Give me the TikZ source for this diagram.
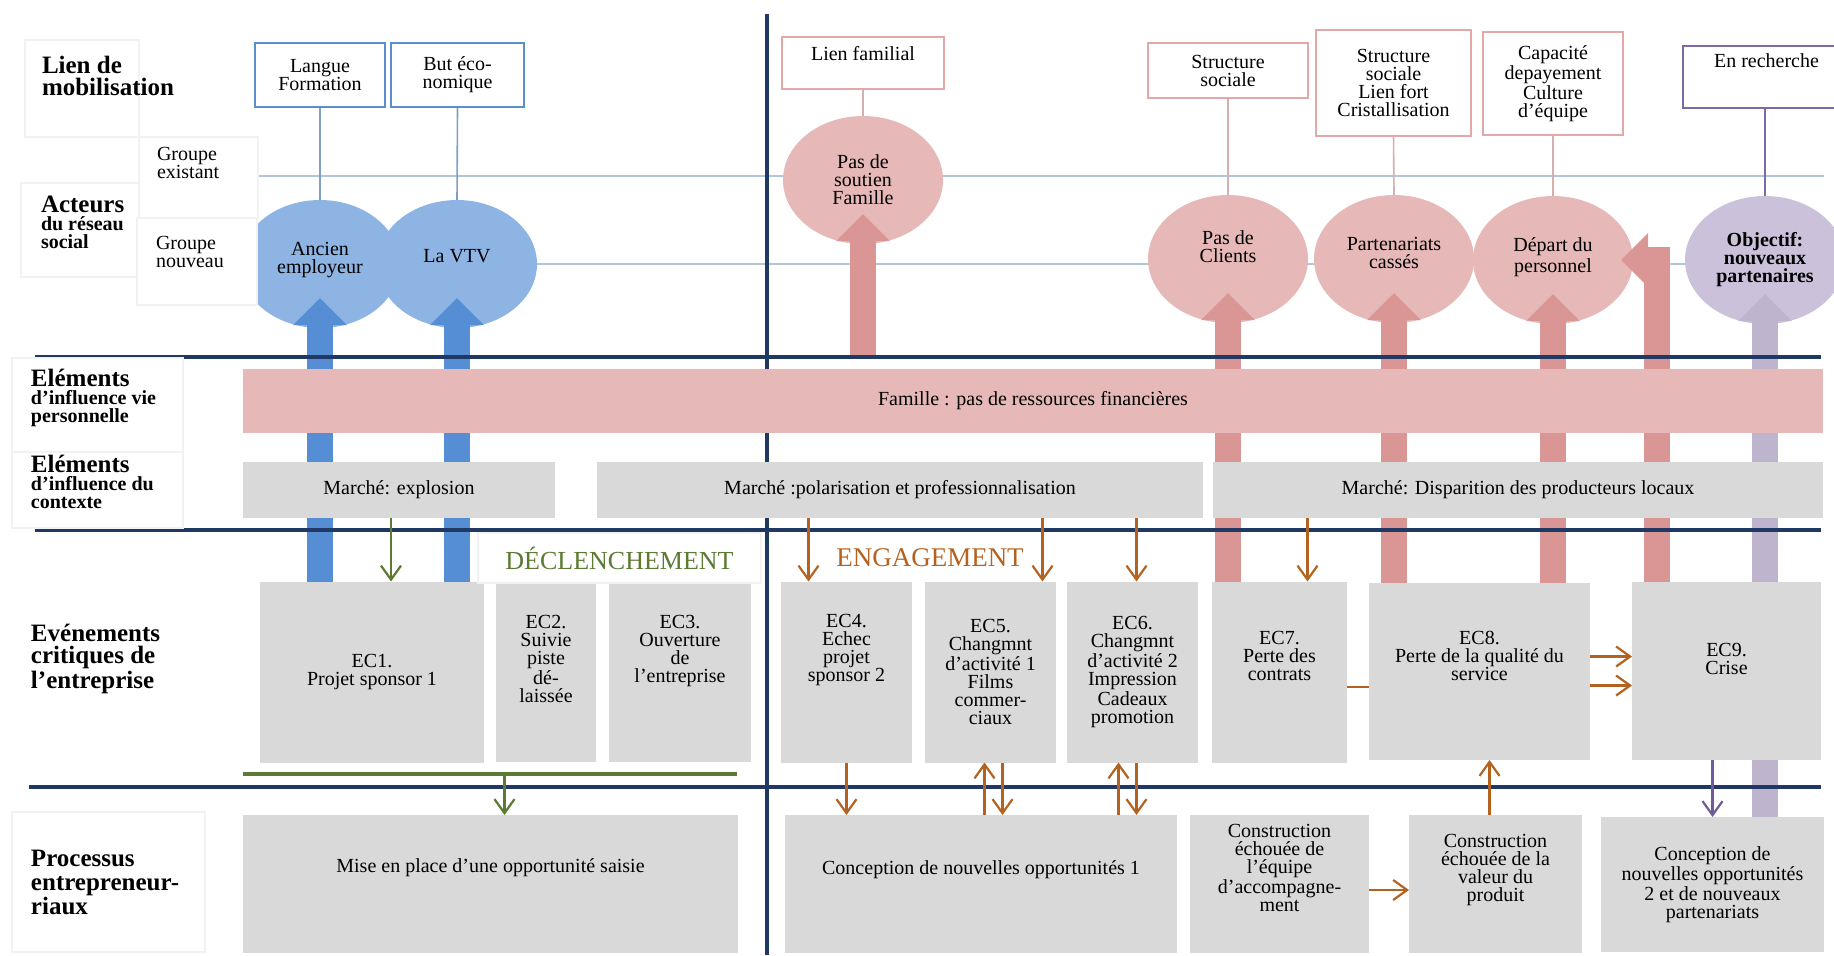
\documentclass[tikz,border=0pt]{standalone}
\usepackage{fontspec}
\setmainfont{Liberation Serif}
\usetikzlibrary{arrows.meta,shapes.geometric}

\pgfdeclarelayer{grid}
\pgfdeclarelayer{actors}
\pgfdeclarelayer{fat}
\pgfsetlayers{grid,actors,fat,main}

\definecolor{navyline}{HTML}{1F3864}
\definecolor{gridblue}{HTML}{B3C5DB}
\definecolor{boxgray}{HTML}{D9D9D9}
\definecolor{lightblue}{HTML}{8EB4E3}
\definecolor{midblue}{HTML}{558ED5}
\definecolor{lightpink}{HTML}{E6B9B8}
\definecolor{midpink}{HTML}{D99694}
\definecolor{lightlilac}{HTML}{CCC1DA}
\definecolor{midlilac}{HTML}{BFB4CE}
\definecolor{darklilac}{HTML}{6F5B99}
\definecolor{declgreen}{HTML}{5C7A33}
\definecolor{engbrown}{HTML}{B3621F}
\definecolor{boxblue}{HTML}{5B8FC9}
\definecolor{linkblue}{HTML}{7F9FC6}
\definecolor{boxpink}{HTML}{E3A9A9}
\definecolor{linkpink}{HTML}{D6AFAF}
\definecolor{boxlilac}{HTML}{7E6AA3}

\begin{document}
\begin{tikzpicture}[x=0.5pt, y=-0.5pt,
  every node/.style={font=\fontsize{10}{9}\selectfont, inner sep=0pt, outer sep=0pt, align=center},
  topbox/.style={draw=#1, line width=1pt, fill=white},
  actor/.style={ellipse, fill=#1, minimum width=80pt, minimum height=64pt},
  graybox/.style={fill=boxgray},
  rowbox/.style={draw=black!5, line width=0.6pt, fill=white},
  rowlabel/.style={anchor=west, align=left, font=\bfseries\fontsize{10}{9}\selectfont},
  gridline/.style={gridblue, line width=1.4pt},
  separator/.style={navyline, line width=1.6pt},
  link/.style={#1, line width=0.8pt},
  fatarrow/.style={#1, line width=13pt, -{Triangle[length=13.5pt,width=26pt]}},
  smallarrow/.style={#1, line width=1.1pt, -{Straight Barb[length=7pt,width=10pt]}}]
\useasboundingbox (0,0) rectangle (1834,955);

\coordinate (h1w) at (35,357);  \coordinate (h1e) at (1821,357);
\coordinate (h2w) at (35,530);  \coordinate (h2e) at (1821,530);
\coordinate (h3w) at (29,787);  \coordinate (h3e) at (1821,787);
\coordinate (gw) at (243,774);  \coordinate (ge) at (737,774);

% liens de mobilisation
\node[topbox=boxblue, minimum width=65pt, minimum height=32pt] (langue) at (320,75) {Langue\\Formation};
\node[topbox=boxblue, minimum width=66.5pt, minimum height=32pt] (buteco) at (457.5,75) {But éco-\\nomique};
\node[topbox=boxpink, minimum width=81pt, minimum height=26pt, text depth=10pt] (lienfam) at (863,63) {Lien familial};
\node[topbox=boxpink, minimum width=80pt, minimum height=27.5pt] (structsoc) at (1228,70.5) {Structure\\sociale};
\node[topbox=boxpink, minimum width=77.5pt, minimum height=53pt] (lienfort) at (1393.5,83) {Structure\\sociale\\Lien fort\\Cristallisation};
\node[topbox=boxpink, minimum width=70pt, minimum height=51.5pt] (capacite) at (1553,83.5) {Capacité\\depayement\\Culture\\d’équipe};
\node[topbox=boxlilac, minimum width=83.5pt, minimum height=31pt, text depth=16pt] (enrech) at (1766.5,77) {En recherche};

% acteurs
\begin{pgfonlayer}{actors}
\node[actor=lightblue, text depth=6pt] (anc) at (320,264) {Ancien\\employeur};
\node[actor=lightblue, text depth=8pt] (vtv) at (457,264) {La VTV};
\node[actor=lightpink] (soutien) at (863,180) {Pas de\\soutien\\Famille};
\node[actor=lightpink, text depth=12pt] (clients) at (1228,259) {Pas de\\Clients};
\node[actor=lightpink, text depth=6pt] (parten) at (1394,259) {Partenariats\\cassés};
\node[actor=lightpink, text depth=5pt] (depart) at (1553,260) {Départ du\\personnel};
\node[actor=lightlilac, font=\bfseries\fontsize{10}{9}\selectfont] (objectif) at (1765,260) {Objectif:\\nouveaux\\partenaires};
\end{pgfonlayer}

\begin{pgfonlayer}{grid}
\draw[gridline] (258,176) -- (1824,176);
\draw[gridline] (258,264) -- (1824,264);
\draw[separator] (767,14) -- (767,955);
\draw[link=linkblue] (langue.south) -- (anc.north);
\draw[link=linkblue] (buteco.south) -- (vtv.north);
\draw[link=linkpink] (lienfam.south) -- (soutien.north);
\draw[link=linkpink] (structsoc.south) -- (clients.north);
\draw[link=linkpink] (lienfort.south) -- (parten.north);
\draw[link=linkpink] (capacite.south) -- (depart.north);
\draw[link=boxlilac] (objectif |- enrech.south) -- (objectif.north);
\end{pgfonlayer}

% elements d'influence
\node[fill=lightpink, minimum width=790pt, minimum height=32pt] (famille) at (1033,401) {Famille : pas de ressources financières};
\node[graybox, minimum width=156pt, minimum height=28pt] (explosion) at (399,490) {Marché: explosion};
\node[graybox, minimum width=303pt, minimum height=28pt] (polar) at (900,490) {Marché :polarisation et professionnalisation};
\node[graybox, minimum width=305pt, minimum height=28pt] (disparition) at (1518,490) {Marché: Disparition des producteurs locaux};

% evenements critiques
\node[graybox, minimum width=112pt, minimum height=90.5pt] (ec1) at (372,672) {EC1.\\Projet sponsor 1};
\node[graybox, minimum width=50pt, minimum height=89pt, text depth=14pt] (ec2) at (546,673) {EC2.\\Suivie\\piste\\dé-\\laissée};
\node[graybox, minimum width=71pt, minimum height=89pt, text depth=24pt] (ec3) at (680,673) {EC3.\\Ouverture\\de\\l’entreprise};
\node[graybox, minimum width=65.5pt, minimum height=90.5pt, text depth=24pt] (ec4) at (846.5,672) {EC4.\\Echec\\projet\\sponsor 2};
\node[graybox, minimum width=65.5pt, minimum height=90.5pt] (ec5) at (990.5,672) {EC5.\\Changmnt\\d’activité 1\\Films\\commer-\\ciaux};
\node[graybox, minimum width=65.5pt, minimum height=90.5pt] (ec6) at (1132.5,672) {EC6.\\Changmnt\\d’activité 2\\Impression\\Cadeaux\\promotion};
\node[graybox, minimum width=67.5pt, minimum height=90.5pt, text depth=16pt] (ec7) at (1279.5,672) {EC7.\\Perte des\\contrats};
\node[graybox, minimum width=110.5pt, minimum height=88.5pt, text depth=16pt] (ec8) at (1479.5,671.5) {EC8.\\Perte de la qualité du\\service};
\node[graybox, minimum width=94.5pt, minimum height=89pt, text depth=12pt] (ec9) at (1726.5,671) {EC9.\\Crise};

% processus
\node[graybox, minimum width=247.5pt, minimum height=69pt, text depth=18pt] (mise) at (490.5,884) {Mise en place d’une opportunité saisie};
\node[graybox, minimum width=196pt, minimum height=69pt, text depth=16pt] (concep1) at (981,884) {Conception de nouvelles opportunités 1};
\node[graybox, minimum width=89.5pt, minimum height=69pt, text depth=16pt] (constreq) at (1279.5,884) {Construction\\échouée de\\l’équipe\\d’accompagne-\\ment};
\node[graybox, minimum width=86.5pt, minimum height=69pt, text depth=16pt] (constval) at (1495.5,884) {Construction\\échouée de la\\valeur du\\produit};
\node[graybox, minimum width=111.5pt, minimum height=67.5pt] (concep2) at (1712.5,884.5) {Conception de\\nouvelles opportunités\\2 et de nouveaux\\partenariats};

% libelles des lignes
\path[rowbox] (25,40) rectangle (139,137);
\path[rowbox] (139,137) rectangle (258,218);
\path[rowbox] (21,183) rectangle (139,277);
\path[rowbox] (137,218) rectangle (257,305);
\path[rowbox] (12,358) rectangle (183,452);
\path[rowbox] (12,452) rectangle (183,528);
\path[rowbox] (12,812) rectangle (205,952);
\node[rowlabel, font=\bfseries\fontsize{12.5}{11}\selectfont] (lien) at (42,76) {Lien de\\mobilisation};
\node[rowlabel, font=\fontsize{10}{9}\selectfont] (grpexist) at (157,163) {Groupe\\existant};
\node[rowlabel] (acteurs) at (41,222) {{\fontsize{12.5}{11}\selectfont Acteurs}\\du réseau\\social};
\node[rowlabel, font=\fontsize{10}{9}\selectfont] (grpnouv) at (156,252) {Groupe\\nouveau};
\node[rowlabel] (elvie) at (31,398) {{\fontsize{12.5}{11}\selectfont Eléments}\\d’influence vie\\personnelle};
\node[rowlabel] (elctx) at (31,482) {{\fontsize{12.5}{11}\selectfont Eléments}\\d’influence du\\contexte};
\node[rowlabel, font=\bfseries\fontsize{12.5}{11}\selectfont] (evenements) at (31,659) {Evénements\\critiques de\\l’entreprise};
\node[rowlabel, font=\bfseries\fontsize{12.5}{12}\selectfont] (processus) at (31,882) {Processus\\entrepreneur-\\riaux};

\node[rowbox, minimum width=141.5pt, minimum height=25pt, text=declgreen, font=\fontsize{13}{13}\selectfont] (decl) at (619.5,558) {DÉCLENCHEMENT};
\node[text=engbrown, font=\fontsize{13.5}{13}\selectfont] (engag) at (930,558) {ENGAGEMENT};

% fleches epaisses et separateurs
\begin{pgfonlayer}{fat}
\draw[fatarrow=midblue] (anc |- ec1.north) -- ([yshift=15pt]anc.south);
\draw[fatarrow=midblue] (vtv |- ec1.north) -- ([yshift=15pt]vtv.south);
\draw[fatarrow=midpink] (soutien |- h1w) -- ([yshift=15pt]soutien.south);
\draw[fatarrow=midpink] (clients |- ec7.north) -- ([yshift=15pt]clients.south);
\draw[fatarrow=midpink] (parten |- ec8.north) -- ([yshift=15pt]parten.south);
\draw[fatarrow=midpink] (depart |- ec8.north) -- ([yshift=15pt]depart.south);
\draw[fatarrow=midpink] ([xshift=-35pt]ec9.north) |- ([xshift=-6pt]depart.east);
\draw[fatarrow=midlilac] (objectif |- concep2.north) -- ([yshift=15pt]objectif.south);
\draw[separator] (h1w) -- (h1e);
\draw[separator] (h2w) -- (h2e);
\draw[separator] (h3w) -- (h3e);
\end{pgfonlayer}

% declenchement
\draw[smallarrow=declgreen] ([xshift=-4pt]explosion.south) -- ([xshift=-4pt]explosion.south |- ec1.north);
\draw[declgreen, line width=1.6pt] (gw) -- (ge);
\draw[smallarrow=declgreen] ([xshift=7pt]mise.north |- gw) -- ([xshift=7pt]mise.north);

% engagement
\draw[smallarrow=engbrown] ([xshift=-19pt]ec4.north |- polar.south) -- ([xshift=-19pt]ec4.north);
\draw[smallarrow=engbrown] ([xshift=26pt]ec5.north |- polar.south) -- ([xshift=26pt]ec5.north);
\draw[smallarrow=engbrown] ([xshift=2pt]ec6.north |- polar.south) -- ([xshift=2pt]ec6.north);
\draw[smallarrow=engbrown] ([xshift=14pt]ec7.north |- disparition.south) -- ([xshift=14pt]ec7.north);
\draw[smallarrow=engbrown] (ec4.south) -- (ec4.south |- concep1.north);
\draw[smallarrow=engbrown] ([xshift=-3pt]ec5.south |- concep1.north) -- ([xshift=-3pt]ec5.south);
\draw[smallarrow=engbrown] ([xshift=6pt]ec5.south) -- ([xshift=6pt]ec5.south |- concep1.north);
\draw[smallarrow=engbrown] ([xshift=-7pt]ec6.south |- concep1.north) -- ([xshift=-7pt]ec6.south);
\draw[smallarrow=engbrown] ([xshift=2pt]ec6.south) -- ([xshift=2pt]ec6.south |- concep1.north);
\draw[engbrown, line width=1.1pt] ([yshift=-7.5pt]ec7.east) -- ([yshift=-7.5pt]ec7.east -| ec8.west);
\draw[smallarrow=engbrown] ([yshift=7.5pt]ec8.east) -- ([yshift=7.5pt]ec8.east -| ec9.west);
\draw[smallarrow=engbrown] ([yshift=-7pt]ec8.east) -- ([yshift=-7pt]ec8.east -| ec9.west);
\draw[smallarrow=engbrown] ([yshift=-3pt]constreq.east) -- ([yshift=-3pt]constreq.east -| constval.west);
\draw[smallarrow=engbrown] ([xshift=-3pt]constval.north) -- ([xshift=-3pt]constval.north |- ec8.south);
\draw[smallarrow=darklilac] ([xshift=-7pt]ec9.south) -- ([xshift=-7pt]ec9.south |- concep2.north);
\end{tikzpicture}
\end{document}
